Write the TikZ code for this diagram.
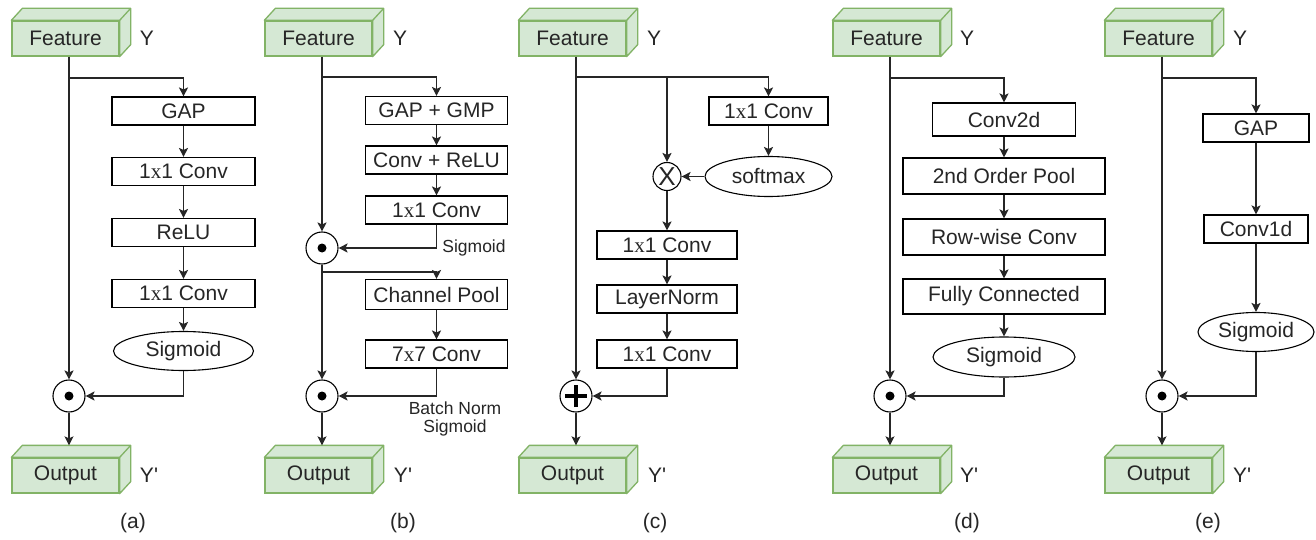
\documentclass[tikz,border=0pt]{standalone}
\usepackage{fontspec}
\setmainfont{Liberation Sans}
\newfontfamily\serifxfont{Liberation Serif}
\usetikzlibrary{shapes.geometric,arrows.meta,calc}
\definecolor{cubefill}{HTML}{D5E8D4}
\definecolor{cubeline}{HTML}{82B366}
\definecolor{ink}{HTML}{262626}
\newcommand{\timesx}{{\serifxfont x}}
\newcommand{\prm}{\textquotesingle}
\newcommand{\mycube}[4]{%
  \node[cubef] (#1) at (#2,#3) {#4};
  \draw[draw=cubeline, fill=cubefill, line width=1.3pt, line join=round]
    (#1.north west) -- ++(11,-12) -- ([shift={(11,-12)}]#1.north east)
    -- ([shift={(11,-12)}]#1.south east) -- (#1.south east) -- (#1.north east) -- cycle;
  \draw[draw=cubeline, line width=1.3pt] (#1.north east) -- ([shift={(11,-12)}]#1.north east);
  \coordinate (#1-top) at ([yshift=12pt]#1.north);
}
\begin{document}
\begin{tikzpicture}[x=1pt,y=-1pt,
  every node/.style={text=ink},
  blk/.style={draw=black, line width=1.1pt, fill=white, minimum height=28pt, inner sep=0pt,
    font=\fontsize{21}{25}\selectfont},
  ell/.style={ellipse, draw=black, line width=1.1pt, fill=white, inner sep=0pt,
    font=\fontsize{21}{25}\selectfont},
  opc/.style={circle, draw=black, line width=1.1pt, fill=white, minimum size=32pt, inner sep=0pt},
  cubef/.style={draw=cubeline, fill=cubefill, line width=1.3pt, minimum width=107pt,
    minimum height=35pt, inner sep=0pt, font=\fontsize{21}{25}\selectfont},
  wire/.style={draw=ink, line width=1.25pt},
  arr/.style={wire, -{Stealth[length=9pt,width=9pt,inset=2pt]}},
  lbl/.style={font=\fontsize{21}{25}\selectfont},
  sml/.style={font=\fontsize{17.5}{19}\selectfont, align=center},
]
\fill[white] (0,0) rectangle (1316,540);
\useasboundingbox (0,0) rectangle (1316,540);

% ---------------- (a) ----------------
\mycube{fa}{65.5}{38.5}{Feature}
\node[lbl] (ya) at (147,38) {Y};
\node[blk, minimum width=143pt] (a1) at (183.5,111) {GAP};
\node[blk, minimum width=143pt] (a2) at (183.5,171.5) {1\timesx1 Conv};
\node[blk, minimum width=143pt] (a3) at (183.5,232.5) {ReLU};
\node[blk, minimum width=143pt] (a4) at (183.5,293.5) {1\timesx1 Conv};
\node[ell, minimum width=140pt, minimum height=39pt] (a5) at (183.5,351) {Sigmoid};
\node[opc] (ao) at (69,396) {};
\fill[black] (ao.center) circle (4.5pt);
\mycube{outa}{65.5}{475.5}{Output}
\node[lbl] (ypa) at (149,475) {Y\prm};
\node[lbl] (capa) at (133,523) {(a)};
\coordinate (ja) at (69,78);
\draw[arr] (fa.south -| ao) -- (ao);
\draw[arr] (ja) -| (a1.north);
\draw[arr] (a1) -- (a2);
\draw[arr] (a2) -- (a3);
\draw[arr] (a3) -- (a4);
\draw[arr] (a4) -- (a5);
\draw[arr] (a5.south) |- (ao.east);
\draw[arr] (ao) -- (outa-top -| ao);

% ---------------- (b) ----------------
\mycube{fb}{318.5}{38.5}{Feature}
\node[lbl] (yb) at (400,38) {Y};
\node[blk, minimum width=142pt] (b1) at (436.5,110.5) {GAP + GMP};
\node[blk, minimum width=142pt] (b2) at (436.5,160) {Conv + ReLU};
\node[blk, minimum width=142pt] (b3) at (436.5,210) {1\timesx1 Conv};
\node[opc] (bo1) at (322,248) {};
\fill[black] (bo1.center) circle (4.5pt);
\node[sml] (bs1) at (474,248) {Sigmoid};
\node[blk, minimum width=142pt, minimum height=30pt] (b4) at (436.5,294.5) {Channel Pool};
\node[blk, minimum width=142pt] (b5) at (436.5,354) {7\timesx7 Conv};
\node[opc] (bo2) at (322,396) {};
\fill[black] (bo2.center) circle (4.5pt);
\node[sml] (bs2) at (455,419) {Batch Norm\\[-1pt]Sigmoid};
\mycube{outb}{318.5}{475.5}{Output}
\node[lbl] (ypb) at (403,475) {Y\prm};
\node[lbl] (capb) at (403,523) {(b)};
\coordinate (jb1) at (322,77);
\coordinate (jb2) at (322,272);
\draw[arr] (fb.south -| bo1) -- (bo1);
\draw[arr] (jb1) -| (b1.north);
\draw[arr] (b1) -- (b2);
\draw[arr] (b2) -- (b3);
\draw[arr] (b3.south) |- (bo1.east);
\draw[arr] (bo1) -- (bo2);
\draw[arr] (jb2) -| (b4.north);
\draw[arr] (b4) -- (b5);
\draw[arr] (b5.south) |- (bo2.east);
\draw[arr] (bo2) -- (outb-top -| bo2);

% ---------------- (c) ----------------
\mycube{fc}{572.5}{38.5}{Feature}
\node[lbl] (yc) at (654,38) {Y};
\node[blk, minimum width=119pt] (c1) at (768.5,111) {1\timesx1 Conv};
\node[ell, minimum width=127pt, minimum height=40pt] (c2) at (768.5,176.5) {softmax};
\node[opc, minimum size=28pt, font=\fontsize{26}{28}\selectfont] (cx) at (667,176.5) {X};
\node[blk, minimum width=140pt] (c3) at (667,245) {1\timesx1 Conv};
\node[blk, minimum width=140pt] (c4) at (667,299) {LayerNorm};
\node[blk, minimum width=140pt] (c5) at (667,354) {1\timesx1 Conv};
\node[opc] (cp) at (576,396) {};
\draw[black, line width=4pt] ([xshift=-11pt]cp.center) -- ([xshift=11pt]cp.center);
\draw[black, line width=4pt] ([yshift=-11pt]cp.center) -- ([yshift=11pt]cp.center);
\mycube{outc}{572.5}{475.5}{Output}
\node[lbl] (ypc) at (657,475) {Y\prm};
\node[lbl] (capc) at (655,523) {(c)};
\coordinate (jc) at (576,77);
\draw[arr] (fc.south -| cp) -- (cp);
\draw[arr] (jc) -| (c1.north);
\draw[arr] (jc -| cx) -- (cx);
\draw[arr] (c1) -- (c2);
\draw[arr] (c2) -- (cx);
\draw[arr] (cx) -- (c3);
\draw[arr] (c3) -- (c4);
\draw[arr] (c4) -- (c5);
\draw[arr] (c5.south) |- (cp.east);
\draw[arr] (cp) -- (outc-top -| cp);

% ---------------- (d) ----------------
\mycube{fd}{886.5}{38.5}{Feature}
\node[lbl] (yd) at (967,38) {Y};
\node[blk, minimum width=143pt, minimum height=33pt] (d1) at (1004,119.5) {Conv2d};
\node[blk, minimum width=202pt, minimum height=36pt] (d2) at (1004,176) {2nd Order Pool};
\node[blk, minimum width=202pt, minimum height=36pt] (d3) at (1004,237) {Row-wise Conv};
\node[blk, minimum width=202pt, minimum height=35pt] (d4) at (1004,296.5) {Fully Connected};
\node[ell, minimum width=142pt, minimum height=40pt] (d5) at (1004,357) {Sigmoid};
\node[opc] (dod) at (890,396) {};
\fill[black] (dod.center) circle (4.5pt);
\mycube{outd}{886.5}{475.5}{Output}
\node[lbl] (ypd) at (969,475) {Y\prm};
\node[lbl] (capd) at (967,523) {(d)};
\coordinate (jd) at (890,78);
\draw[arr] (fd.south -| dod) -- (dod);
\draw[arr] (jd) -| (d1.north);
\draw[arr] (d1) -- (d2);
\draw[arr] (d2) -- (d3);
\draw[arr] (d3) -- (d4);
\draw[arr] (d4) -- (d5);
\draw[arr] (d5.south) |- (dod.east);
\draw[arr] (dod) -- (outd-top -| dod);

% ---------------- (e) ----------------
\mycube{fe}{1158.5}{38.5}{Feature}
\node[lbl] (ye) at (1240,38) {Y};
\node[blk, minimum width=106pt] (e1) at (1256,128) {GAP};
\node[blk, minimum width=104pt] (e2) at (1256,229) {Conv1d};
\node[ell, minimum width=116pt, minimum height=39pt] (e3) at (1256,332) {Sigmoid};
\node[opc] (eo) at (1162,396) {};
\fill[black] (eo.center) circle (4.5pt);
\mycube{oute}{1158.5}{475.5}{Output}
\node[lbl] (ype) at (1242,475) {Y\prm};
\node[lbl] (cape) at (1208,523) {(e)};
\coordinate (je) at (1162,78);
\draw[arr] (fe.south -| eo) -- (eo);
\draw[arr] (je) -| (e1.north);
\draw[arr] (e1) -- (e2);
\draw[arr] (e2) -- (e3);
\draw[arr] (e3.south) |- (eo.east);
\draw[arr] (eo) -- (oute-top -| eo);
\end{tikzpicture}
\end{document}
